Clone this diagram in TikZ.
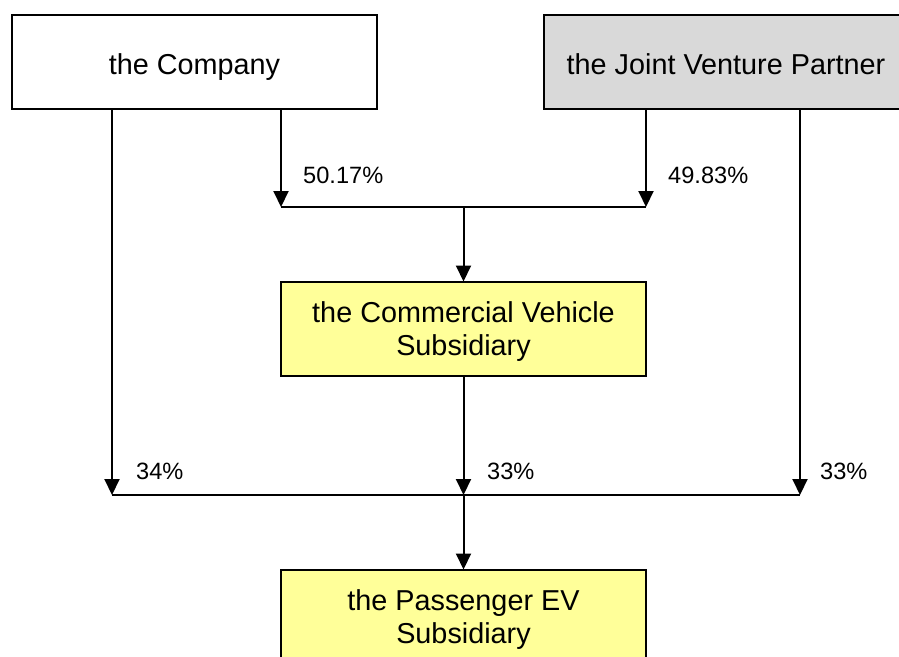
\documentclass[tikz,border=0pt]{standalone}
\usepackage{fontspec}
\setmainfont{Liberation Sans}
\usetikzlibrary{arrows.meta}
\definecolor{jvgray}{RGB}{217,217,217}
\definecolor{subyellow}{RGB}{255,255,153}
\begin{document}
\begin{tikzpicture}[x=1pt,y=-1pt,
  box/.style={draw=black,line width=2pt,minimum width=365pt,minimum height=94pt,inner sep=0pt,outer sep=0pt,align=center,font=\fontsize{28.8}{33}\selectfont},
  oneline/.style={text height=25pt,text depth=0pt},
  twoline/.style={text depth=0pt},
  conn/.style={draw=black,line width=2pt},
  arr/.style={conn,-{Triangle[length=16pt,width=15pt]}},
  pct/.style={anchor=west,inner sep=0pt,font=\fontsize{23.6}{27}\selectfont}]
\useasboundingbox (0,0) rectangle (899,656);
\clip (0,0) rectangle (899,656);
\fill[white] (0,0) rectangle (899,656);
\node[box,oneline,fill=white] (comp) at (194.5,62) {the Company};
\node[box,oneline,fill=jvgray] (jvp) at (726,62) {the Joint Venture Partner};
\node[box,twoline,fill=subyellow] (cv) at (463.5,328.5) {the Commercial Vehicle\\Subsidiary};
\node[box,twoline,fill=subyellow] (pev) at (463.5,616.5) {the Passenger EV\\Subsidiary};
\coordinate (j1) at (281,207);
\coordinate (j2) at (646,207);
\coordinate (jm) at (463.5,207);
\coordinate (b1) at (112,495);
\coordinate (b3) at (800,495);
\coordinate (bm) at (463.5,495);
\draw[conn] (j1) -- (j2);
\draw[conn] (b1) -- (b3);
\draw[arr] (comp.south -| j1) -- (j1);
\draw[arr] (jvp.south -| j2) -- (j2);
\draw[arr] (jm) -- (cv.north);
\draw[arr] (comp.south -| b1) -- (b1);
\draw[arr] (cv.south) -- (bm);
\draw[arr] (jvp.south -| b3) -- (b3);
\draw[arr] (bm) -- (pev.north);
\node[pct] (l1) at (303,175) {50.17\%};
\node[pct] (l2) at (668,175) {49.83\%};
\node[pct] (l3) at (136,471) {34\%};
\node[pct] (l4) at (487,471) {33\%};
\node[pct] (l5) at (820,471) {33\%};
\end{tikzpicture}
\end{document}
